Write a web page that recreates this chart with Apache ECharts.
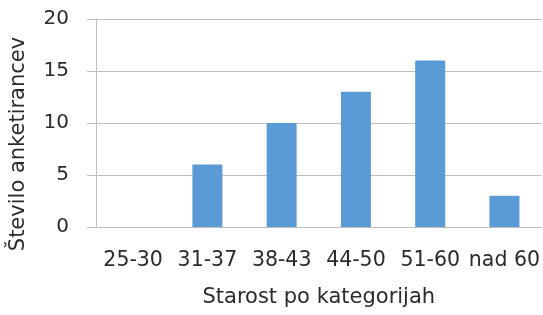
<!DOCTYPE html>
<html>
<head>
<meta charset="utf-8">
<script src="https://cdn.jsdelivr.net/npm/echarts@6/dist/echarts.min.js"></script>
<style>html,body{margin:0;padding:0;background:#fff}#c{width:543px;height:315px}</style>
</head>
<body>
<div id="c"></div>
<script>
const categories = ['25-30', '31-37', '38-43', '44-50', '51-60', 'nad 60'];
const values = [0, 6, 10, 13, 16, 3];
const yTicks = { min: 0, max: 20, interval: 5 };
const xTitle = 'Starost po kategorijah';
const yTitle = 'Število anketirancev';

const font = 'Verdana, "DejaVu Sans", sans-serif';
const textColor = '#2b2b2b';
const lineColor = '#bfbfbf';
const chart = echarts.init(document.getElementById('c'), null, { renderer: 'canvas' });
chart.setOption({
  animation: false,
  backgroundColor: '#ffffff',
  grid: { left: 96, right: 1, top: 19, bottom: 88, containLabel: false },
  xAxis: {
    type: 'category',
    data: categories,
    name: xTitle,
    nameLocation: 'middle',
    nameGap: 60,
    nameTextStyle: { fontFamily: font, fontSize: 21, color: textColor },
    axisLine: { show: true, lineStyle: { color: lineColor, width: 1 } },
    axisTick: { show: false },
    axisLabel: { fontFamily: font, fontSize: 20.5, color: textColor, margin: 23, interval: 0 }
  },
  yAxis: {
    type: 'value',
    min: yTicks.min, max: yTicks.max, interval: yTicks.interval,
    name: yTitle,
    nameLocation: 'middle',
    nameGap: 67,
    nameTextStyle: { fontFamily: font, fontSize: 21, color: textColor, padding: [0, 42, 0, 0] },
    axisLine: { show: true, lineStyle: { color: lineColor, width: 1 } },
    axisTick: { show: true, length: 9, lineStyle: { color: lineColor, width: 1 } },
    axisLabel: { fontFamily: font, fontSize: 20, color: textColor, margin: 27 },
    splitLine: { show: true, lineStyle: { color: lineColor, width: 1 } }
  },
  series: [{
    type: 'bar',
    data: values,
    barWidth: 30,
    itemStyle: { color: '#5b9bd5' }
  }]
});
</script>
</body>
</html>
